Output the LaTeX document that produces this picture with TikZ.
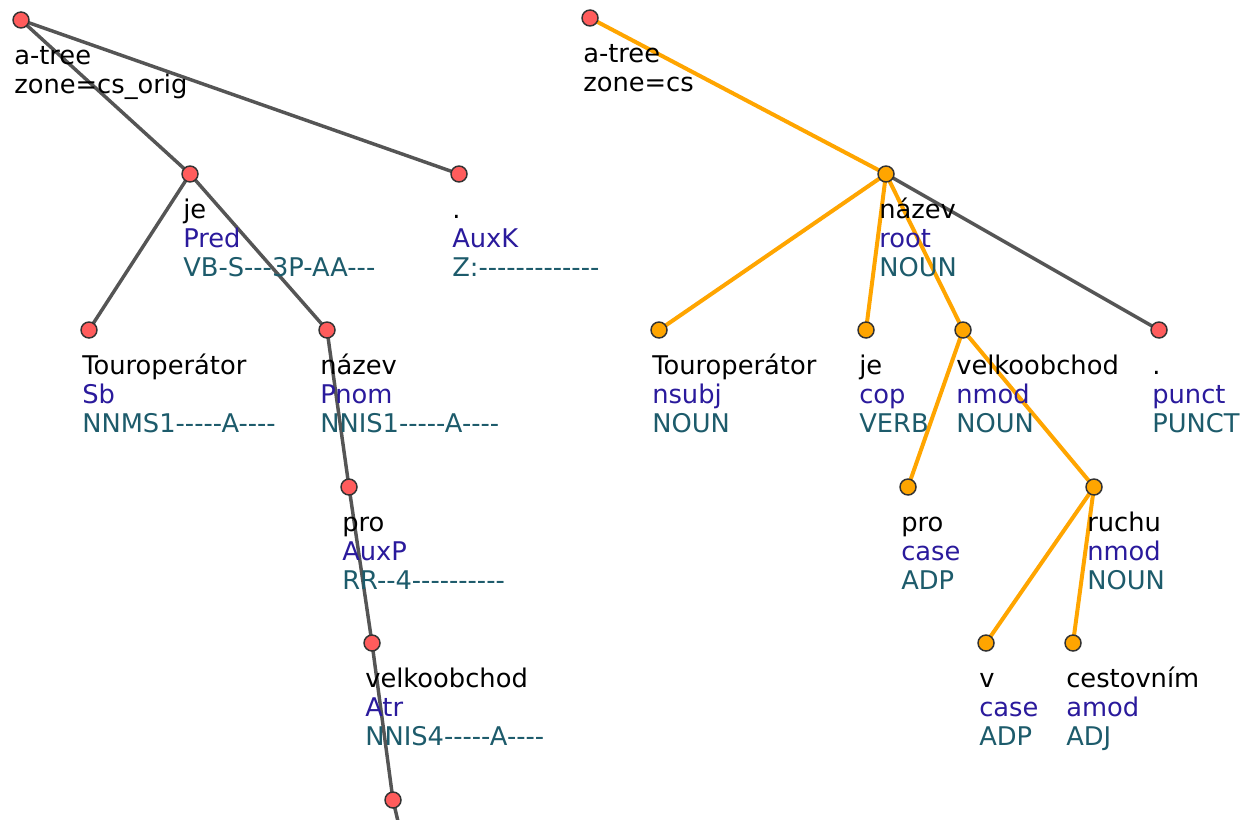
\documentclass[tikz,border=0pt]{standalone}
\usepackage{fontspec}
\setmainfont{DejaVu Sans}[Ligatures=TeXOff]
\usetikzlibrary{positioning,backgrounds}
\definecolor{NodeRed}{HTML}{FF5C5C}
\definecolor{NodeOrange}{HTML}{FFA500}
\definecolor{EdgeGray}{HTML}{555555}
\definecolor{EdgeOrange}{HTML}{FFA500}
\definecolor{DeprelBlue}{HTML}{2A1A9C}
\definecolor{TagTeal}{HTML}{1D5B6B}
\newcommand\treefont{\fontsize{19.3}{21.4}\selectfont}
\newcommand\dr[1]{{\color{DeprelBlue}#1}}
\newcommand\tg[1]{{\color{TagTeal}#1}}
\tikzset{ptnode/.style={circle,draw=black!80,line width=1.1pt,minimum size=12pt,inner sep=0pt},
 redpt/.style={ptnode,fill=NodeRed},orgpt/.style={ptnode,fill=NodeOrange},
 gedge/.style={draw=EdgeGray,line width=2.6pt},oedge/.style={draw=EdgeOrange,line width=3pt},
 lbl/.style={anchor=base west,align=left,inner sep=0pt,font=\treefont,text=black}}
% label under a tree node; #1 = number of lines (base = last line)
\newcommand\tlabel[3][3]{%
 \node[lbl] (#2-lbl) at ([shift={(-7,{45+(#1-1)*28.5})}]#2) {#3};}

\begin{document}
\begin{tikzpicture}[x=0.75pt,y=-0.75pt]
\useasboundingbox (0,0) rectangle (1245,820);
% left tree (cs_orig)
\node[redpt] (L) at (21,20) {};
\node[redpt] (Lje) at (190,174) {};
\node[redpt] (Ldot) at (459,174) {};
\node[redpt] (Ltour) at (89,330) {};
\node[redpt] (Lnaz) at (327,330) {};
\node[redpt] (Lpro) at (349,487) {};
\node[redpt] (Lvel) at (372,643) {};
\node[redpt] (Lbot) at (393,800) {};
\coordinate (Lend) at (400,830);
% right tree (cs)
\node[redpt] (R) at (590,18) {};
\node[orgpt] (Rnaz) at (886,174) {};
\node[orgpt] (Rtour) at (659,330) {};
\node[orgpt] (Rje) at (866,330) {};
\node[orgpt] (Rvel) at (963,330) {};
\node[redpt] (Rdot) at (1159,330) {};
\node[orgpt] (Rpro) at (908,487) {};
\node[orgpt] (Rruchu) at (1094,487) {};
\node[orgpt] (Rv) at (986,643) {};
\node[orgpt] (Rcest) at (1073,643) {};
\begin{scope}[on background layer]
 \foreach \a/\b in {L/Lje,L/Ldot,Lje/Ltour,Lje/Lnaz,Lnaz/Lpro,Lpro/Lvel,Lvel/Lbot,Rnaz/Rdot}
  \draw[gedge] (\a.center)--(\b.center);
 \draw[gedge] (Lbot.center)--(Lend);
 \foreach \a/\b in {R/Rnaz,Rnaz/Rtour,Rnaz/Rje,Rnaz/Rvel,Rvel/Rpro,Rvel/Rruchu,Rruchu/Rv,Rruchu/Rcest}
  \draw[oedge] (\a.center)--(\b.center);
\end{scope}
\tlabel[2]{L}{a-tree\\zone=cs\_orig}
\tlabel{Lje}{je\\\dr{Pred}\\\tg{VB-S---3P-AA---}}
\tlabel{Ldot}{.\\\dr{AuxK}\\\tg{Z:-------------}}
\tlabel{Ltour}{Touroperátor\\\dr{Sb}\\\tg{NNMS1-----A----}}
\tlabel{Lnaz}{název\\\dr{Pnom}\\\tg{NNIS1-----A----}}
\tlabel{Lpro}{pro\\\dr{AuxP}\\\tg{RR--4----------}}
\tlabel{Lvel}{velkoobchod\\\dr{Atr}\\\tg{NNIS4-----A----}}
\tlabel[2]{R}{a-tree\\zone=cs}
\tlabel{Rnaz}{název\\\dr{root}\\\tg{NOUN}}
\tlabel{Rtour}{Touroperátor\\\dr{nsubj}\\\tg{NOUN}}
\tlabel{Rje}{je\\\dr{cop}\\\tg{VERB}}
\tlabel{Rvel}{velkoobchod\\\dr{nmod}\\\tg{NOUN}}
\tlabel{Rdot}{.\\\dr{punct}\\\tg{PUNCT}}
\tlabel{Rpro}{pro\\\dr{case}\\\tg{ADP}}
\tlabel{Rruchu}{ruchu\\\dr{nmod}\\\tg{NOUN}}
\tlabel{Rv}{v\\\dr{case}\\\tg{ADP}}
\tlabel{Rcest}{cestovním\\\dr{amod}\\\tg{ADJ}}
\end{tikzpicture}
\end{document}
